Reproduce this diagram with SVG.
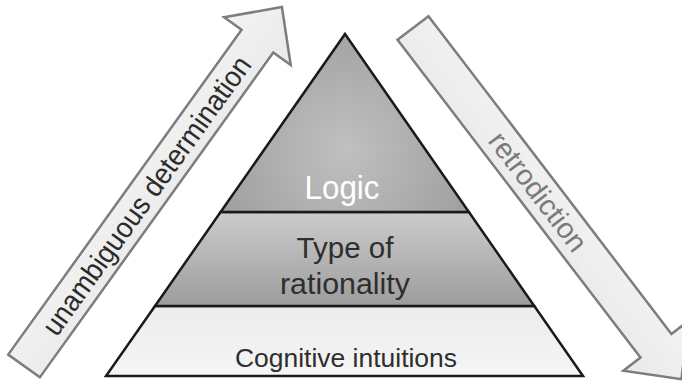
<svg xmlns="http://www.w3.org/2000/svg" width="682" height="381" viewBox="0 0 682 381">
  <defs>
    <radialGradient id="gTop" cx="345" cy="150" r="140" gradientUnits="userSpaceOnUse">
      <stop offset="0" stop-color="#c0c0c0"/>
      <stop offset="1" stop-color="#9e9e9e"/>
    </radialGradient>
    <linearGradient id="gMid" x1="0" y1="212" x2="0" y2="306" gradientUnits="userSpaceOnUse">
      <stop offset="0" stop-color="#cccccc"/>
      <stop offset="1" stop-color="#9d9d9d"/>
    </linearGradient>
    <linearGradient id="gBot" x1="0" y1="306" x2="0" y2="376" gradientUnits="userSpaceOnUse">
      <stop offset="0" stop-color="#ececec"/>
      <stop offset="1" stop-color="#f5f5f5"/>
    </linearGradient>
    <linearGradient id="gArrow" x1="0" y1="-40" x2="0" y2="40" gradientUnits="userSpaceOnUse">
      <stop offset="0" stop-color="#f3f3f3"/>
      <stop offset="1" stop-color="#e9e9e9"/>
    </linearGradient>
    <path id="arrowShape" d="M0,-19.5 H400 V-41 L442,0 L400,41 V19.5 H0 Z"/>
  </defs>
  <style>
    .arrow { fill: url(#gArrow); stroke: #7d7d7d; stroke-width: 2.5; stroke-linejoin: miter; }
    .tier { stroke: #1a1a1a; stroke-width: 2.5; stroke-linejoin: miter; }
    .lbl { font-family: "Liberation Sans", Arial, sans-serif; text-anchor: middle; }
  </style>

  <!-- direction arrows -->
  <g id="connectors">
    <g id="arrow-up" transform="translate(24,366) rotate(-54.3)">
      <use href="#arrowShape" class="arrow"/>
      <text class="lbl" x="210" y="10" font-size="29" textLength="336" lengthAdjust="spacingAndGlyphs" fill="#2b2b2b">unambiguous determination</text>
    </g>
    <g id="arrow-down" transform="translate(413,28) rotate(52.6)">
      <use href="#arrowShape" class="arrow"/>
      <text class="lbl" x="206" y="10" font-size="29" textLength="142" lengthAdjust="spacingAndGlyphs" fill="#7a7a7a">retrodiction</text>
    </g>
  </g>

  <!-- pyramid tiers -->
  <g id="tier-intuitions">
    <polygon class="tier" points="155,306 534.3,306 583,376 106,376" fill="url(#gBot)"/>
    <text class="lbl" x="346" y="366.5" font-size="26" textLength="222" lengthAdjust="spacingAndGlyphs" fill="#2e2e2e">Cognitive intuitions</text>
  </g>
  <g id="tier-rationality">
    <polygon class="tier" points="220.6,212 468.9,212 534.3,306 155,306" fill="url(#gMid)"/>
    <text class="lbl" x="345" y="258" font-size="29.5" fill="#2e2e2e">Type of</text>
    <text class="lbl" x="345" y="293.5" font-size="29.5" textLength="130" lengthAdjust="spacingAndGlyphs" fill="#2e2e2e">rationality</text>
  </g>
  <g id="tier-logic">
    <polygon class="tier" points="345,34 468.9,212 220.6,212" fill="url(#gTop)"/>
    <text class="lbl" x="342" y="198.5" font-size="34" textLength="75" lengthAdjust="spacingAndGlyphs" fill="#ffffff">Logic</text>
  </g>
</svg>
